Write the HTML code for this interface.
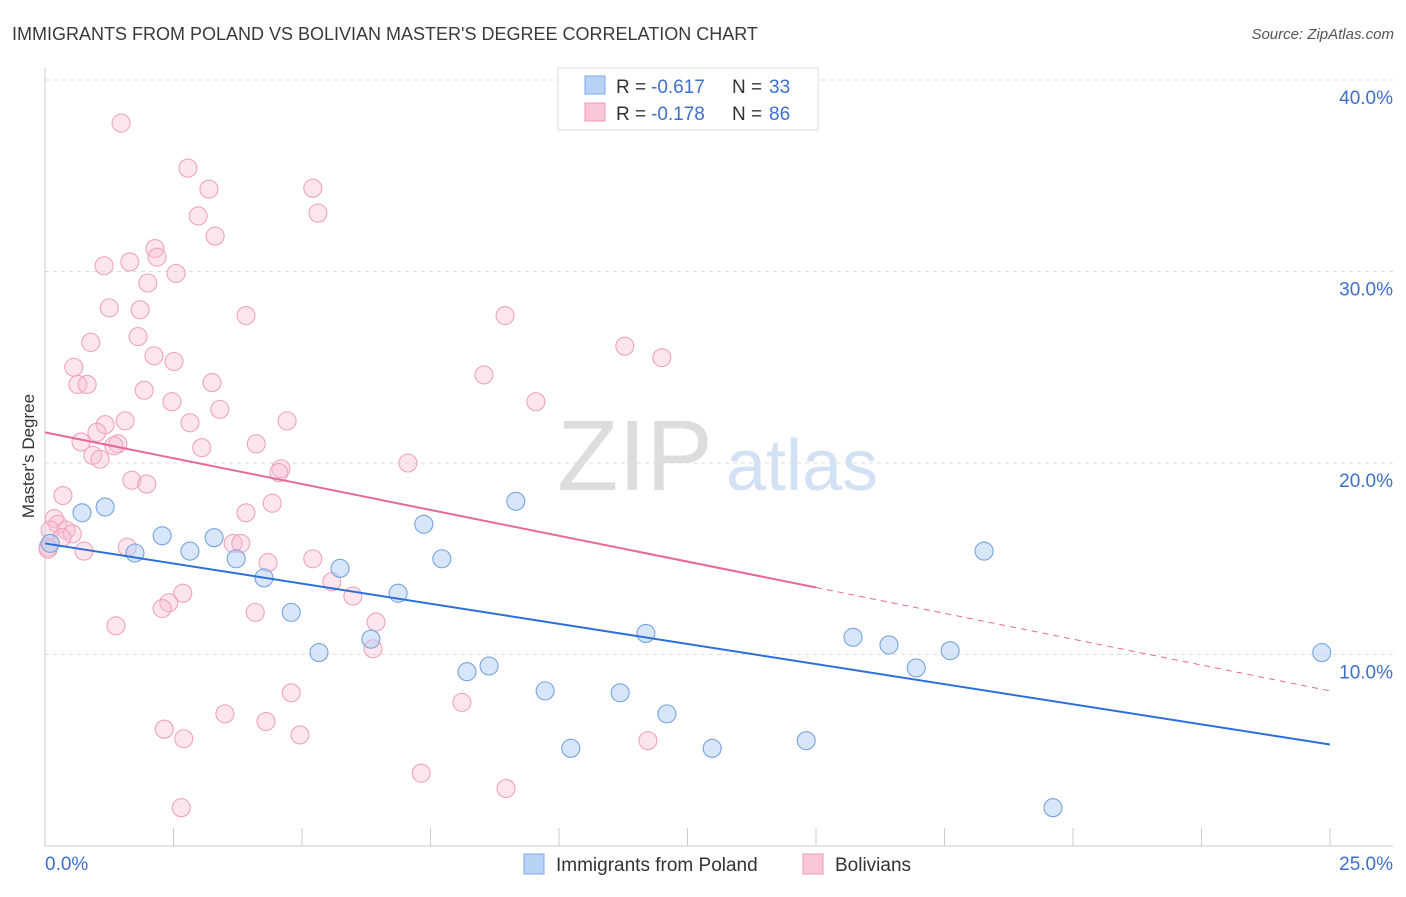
<!DOCTYPE html>
<html><head><meta charset="utf-8">
<style>
body{margin:0;background:#fff;font-family:"Liberation Sans",sans-serif;}
svg text{font-family:"Liberation Sans",sans-serif;}
</style></head>
<body>
<svg width="1406" height="892" viewBox="0 0 1406 892" xmlns="http://www.w3.org/2000/svg">
<text x="12" y="40" font-size="18" fill="#3a3a3a">IMMIGRANTS FROM POLAND VS BOLIVIAN MASTER'S DEGREE CORRELATION CHART</text>
<text x="1394" y="39" font-size="15" fill="#555" text-anchor="end" font-style="italic">Source: ZipAtlas.com</text>
<g>
<text x="635" y="490" font-size="100" fill="#ddd" text-anchor="middle" font-family="Liberation Serif">ZIP</text>
<text x="802" y="490" font-size="72" fill="#d3e1f5" text-anchor="middle">atlas</text>
</g>
<g id="grid"></g>
<g id="axes"></g>
<g id="points"></g>
<g id="trends"></g>
<text transform="translate(34,456) rotate(-90)" font-size="17" fill="#333" text-anchor="middle">Master's Degree</text>
<g>
<rect x="558" y="68" width="260" height="62" fill="#fff" stroke="#ddd"/>
<rect x="585" y="76" width="20" height="18" fill="#b8d2f5" stroke="#7fa8e6"/>
<rect x="585" y="103" width="20" height="18" fill="#f9c6d6" stroke="#ee9ab8"/>
<text x="616" y="93" font-size="19" fill="#333">R =</text>
<text x="651" y="93" font-size="19" fill="#3d6fcc">-0.617</text>
<text x="732" y="93" font-size="19" fill="#333">N =</text>
<text x="769" y="93" font-size="19" fill="#3d6fcc">33</text>
<text x="616" y="120" font-size="19" fill="#333">R =</text>
<text x="651" y="120" font-size="19" fill="#3d6fcc">-0.178</text>
<text x="732" y="120" font-size="19" fill="#333">N =</text>
<text x="769" y="120" font-size="19" fill="#3d6fcc">86</text>
</g>
<g>
<rect x="524" y="854" width="20" height="20" fill="#b8d2f5" stroke="#7fa8e6"/>
<text x="556" y="871" font-size="19" fill="#333">Immigrants from Poland</text>
<rect x="803" y="854" width="20" height="20" fill="#f9c6d6" stroke="#ee9ab8"/>
<text x="835" y="871" font-size="19" fill="#333">Bolivians</text>
</g>
</svg>
<script>
const yTicks=[10,20,30,40];
const yTickLabels=["10.0%","20.0%","30.0%","40.0%"];
const xTickSteps=[0,2.5,5,7.5,10,12.5,15,17.5,20,22.5,25];
const blueX=[0.10,0.72,1.17,1.75,2.28,2.82,3.29,3.72,4.26,4.79,5.33,5.74,6.34,6.87,7.37,7.72,8.21,8.64,9.16,9.73,10.23,11.19,11.69,12.10,12.98,14.81,15.72,16.42,16.95,17.61,18.27,19.61,24.84];
const blueY=[15.8,17.4,17.7,15.3,16.2,15.4,16.1,15.0,14.0,12.2,10.1,14.5,10.8,13.2,16.8,15.0,9.1,9.4,18.0,8.1,5.1,8.0,11.1,6.9,5.1,5.5,10.9,10.5,9.3,10.2,15.4,2.0,10.1];
const pinkX=[1.48,2.78,3.19,5.21,5.31,2.98,3.31,2.14,2.18,1.15,1.65,2.55,2.00,1.25,1.85,3.91,1.81,0.89,2.12,2.51,8.95,11.28,12.0,0.56,8.54,0.64,0.82,3.25,1.93,2.47,9.55,3.40,1.56,2.82,1.17,4.71,1.01,0.70,1.42,1.34,4.11,3.05,0.93,1.07,4.59,4.55,7.06,1.69,1.98,0.35,4.42,3.91,0.18,0.25,0.10,0.41,0.53,0.33,0.06,0.76,1.60,3.66,3.81,4.34,5.21,5.58,2.68,5.99,2.41,2.28,4.09,6.44,1.38,6.38,4.79,8.11,3.50,4.30,2.32,4.96,2.70,11.73,7.32,8.97,2.65,0.06];
const pinkY=[37.75,35.4,34.3,34.35,33.05,32.9,31.85,31.2,30.75,30.3,30.5,29.9,29.4,28.1,28.0,27.7,26.6,26.3,25.6,25.3,27.7,26.1,25.5,25.0,24.6,24.1,24.1,24.2,23.8,23.2,23.2,22.8,22.2,22.1,22.0,22.2,21.6,21.1,21.0,20.9,21.0,20.8,20.4,20.2,19.7,19.5,20.0,19.1,18.9,18.3,17.9,17.4,17.1,16.8,16.5,16.5,16.3,16.1,15.6,15.4,15.6,15.8,15.8,14.8,15.0,13.8,13.2,13.05,12.7,12.4,12.2,11.7,11.5,10.3,8.0,7.5,6.9,6.5,6.1,5.8,5.6,5.5,3.8,3.0,2.0,15.5];
const blueTrend=[[0,15.8],[25,5.3]];
const pinkTrendSolid=[[0,21.6],[15,13.5]];
const pinkTrendDash=[[15,13.5],[25,8.1]];

const NS="http://www.w3.org/2000/svg";
const X0=45,X1=1330,Y0=846,PY=19.15;
const sx=v=>X0+(X1-X0)*v/25;
const sy=v=>Y0-v*PY;
function mk(tag,attrs,parent){const e=document.createElementNS(NS,tag);for(const k in attrs)e.setAttribute(k,attrs[k]);document.getElementById(parent).appendChild(e);return e;}

yTicks.forEach((t,i)=>{
  const g=mk('line',{x1:45,x2:1393,y1:sy(t),y2:sy(t),stroke:'#ddd','stroke-dasharray':'4,4'},'grid');
  
  
  const l=mk('text',{x:1393,y:sy(t)+24,'font-size':19,fill:'#3d6fcc','text-anchor':'end'},'grid');
  l.textContent=yTickLabels[i];
  
  
});
let a=mk('line',{x1:45,x2:45,y1:68,y2:846,stroke:'#ccc'},'axes');


a=mk('line',{x1:45,x2:1393,y1:846,y2:846,stroke:'#ccc'},'axes');


xTickSteps.forEach(t=>{
  const tk=mk('line',{x1:sx(t),x2:sx(t),y1:828,y2:846,stroke:'#ccc'},'axes');
  
  
});
let xl=mk('text',{x:45,y:870,'font-size':19,fill:'#3d6fcc'},'axes');xl.textContent='0.0%';


xl=mk('text',{x:1393,y:870,'font-size':19,fill:'#3d6fcc','text-anchor':'end'},'axes');xl.textContent='25.0%';



pinkX.forEach((v,i)=>{
  const c=mk('circle',{cx:sx(v),cy:sy(pinkY[i]),r:9,fill:'rgba(248,190,210,0.4)',stroke:'#efa3be','stroke-width':1.1},'points');
  
  
});
blueX.forEach((v,i)=>{
  const c=mk('circle',{cx:sx(v),cy:sy(blueY[i]),r:9,fill:'rgba(175,205,243,0.5)',stroke:'#77a3e0','stroke-width':1.1},'points');
  
  
});
let t=mk('line',{x1:sx(blueTrend[0][0]),y1:sy(blueTrend[0][1]),x2:sx(blueTrend[1][0]),y2:sy(blueTrend[1][1]),stroke:'#2a6fdb','stroke-width':2},'trends');


t=mk('line',{x1:sx(pinkTrendSolid[0][0]),y1:sy(pinkTrendSolid[0][1]),x2:sx(pinkTrendSolid[1][0]),y2:sy(pinkTrendSolid[1][1]),stroke:'#e8689a','stroke-width':2},'trends');


t=mk('line',{x1:sx(pinkTrendDash[0][0]),y1:sy(pinkTrendDash[0][1]),x2:sx(pinkTrendDash[1][0]),y2:sy(pinkTrendDash[1][1]),stroke:'#e8689a','stroke-width':1,'stroke-dasharray':'6,5'},'trends');


</script>
</body></html>
